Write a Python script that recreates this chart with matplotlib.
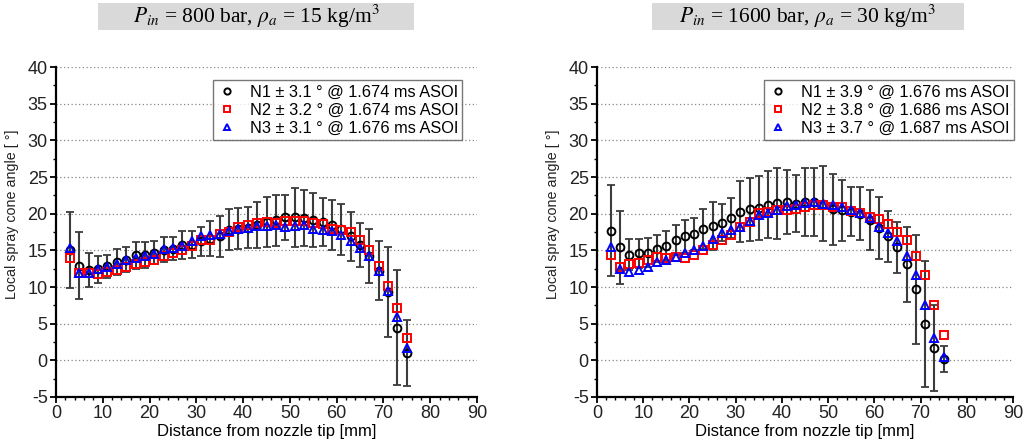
import matplotlib
matplotlib.use("Agg")
import matplotlib.pyplot as plt
import numpy as np
from matplotlib.patches import Rectangle

plt.rcParams['font.family'] = ['Liberation Sans', 'DejaVu Sans']
plt.rcParams['mathtext.fontset'] = 'stix'
plt.rcParams['axes.unicode_minus'] = False

distance = list(range(3, 77, 2))

# Left panel: P_in = 800 bar, rho_a = 15 kg/m3
left_n1 = [15.1, 12.9, 12.3, 12.45, 12.85, 13.45, 13.75, 14.35, 14.4, 14.7, 15.1, 15.25, 15.7, 15.75,
           16.25, 16.6, 16.9, 17.8, 17.95, 18.1, 18.45, 18.9, 19.1, 19.5, 19.5, 19.45, 19.15, 18.9,
           18.5, 17.85, 16.9, 15.8, 14.25, 12.25, 9.3, 4.45, 1.0]
left_err = [5.2, 4.6, 2.3, 1.85, 1.55, 1.75, 1.75, 1.85, 1.8, 1.6, 1.7, 1.55, 1.9, 1.85,
            1.95, 2.4, 2.8, 2.8, 2.8, 2.75, 3.15, 3.4, 3.5, 3.1, 4.0, 3.85, 3.65, 3.3,
            3.4, 3.45, 3.3, 3.0, 3.65, 4.05, 6.1, 7.85, 4.55]
left_n2 = [13.9, 11.85, 11.85, 11.8, 12.1, 12.35, 12.75, 13.1, 13.45, 13.7, 14.3, 14.6, 15.05, 15.65,
           16.4, 16.45, 17.2, 17.55, 18.15, 18.5, 18.7, 18.9, 18.8, 19.05, 19.05, 19.05, 18.8, 18.6,
           17.9, 17.8, 17.55, 16.4, 15.0, 12.9, 10.1, 7.2, 3.0]
left_n3 = [15.3, 11.85, 11.85, 12.4, 12.7, 13.1, 13.7, 13.95, 14.2, 14.5, 15.2, 15.3, 15.6, 16.3,
           16.9, 17.15, 17.25, 17.7, 17.9, 18.0, 18.3, 18.3, 18.45, 18.2, 18.3, 18.4, 17.9, 17.8,
           17.6, 17.1, 16.3, 15.3, 14.2, 12.25, 9.4, 5.9, 1.75]

# Right panel: P_in = 1600 bar, rho_a = 30 kg/m3
right_n1 = [17.7, 15.4, 14.4, 14.6, 14.7, 15.25, 15.6, 16.4, 16.9, 17.25, 17.9, 18.3, 18.8, 19.4,
            20.3, 20.6, 20.8, 21.25, 21.4, 21.6, 21.35, 21.6, 21.6, 21.35, 20.6, 20.45, 20.3, 20.0,
            19.1, 18.1, 16.9, 15.4, 13.1, 9.7, 4.9, 1.65, 0.2]
right_err = [6.2, 5.0, 2.1, 2.0, 1.95, 1.9, 2.1, 2.0, 2.2, 2.15, 2.7, 3.3, 2.5, 2.7,
             4.2, 4.3, 4.4, 4.6, 4.8, 4.3, 3.9, 4.6, 4.6, 5.1, 4.8, 4.15, 3.3, 3.6,
             4.1, 4.25, 3.45, 3.5, 5.15, 7.45, 8.6, 5.85, 1.8]
right_n2 = [14.35, 12.75, 13.1, 13.25, 13.7, 14.05, 13.95, 14.05, 13.95, 14.4, 15.1, 15.7, 16.45, 17.1,
            18.25, 18.85, 20.1, 20.3, 20.45, 20.45, 20.65, 20.9, 21.2, 21.25, 20.9, 20.9, 20.4, 20.1,
            19.5, 19.3, 18.6, 17.55, 16.4, 14.3, 11.65, 7.6, 3.4]
right_n3 = [15.4, 12.45, 12.1, 12.3, 12.8, 13.35, 13.7, 14.15, 14.6, 15.1, 15.55, 16.55, 17.35, 17.8,
            18.15, 19.0, 19.85, 20.1, 20.55, 21.1, 21.25, 21.45, 21.6, 21.35, 21.2, 20.9, 20.45, 20.1,
            19.45, 18.25, 17.35, 16.25, 14.3, 11.65, 7.6, 3.1, 0.4]

left_labels = ["N1 ± 3.1 ° @ 1.674 ms ASOI", "N2 ± 3.2 ° @ 1.674 ms ASOI", "N3 ± 3.1 ° @ 1.676 ms ASOI"]
right_labels = ["N1 ± 3.9 ° @ 1.676 ms ASOI", "N2 ± 3.8 ° @ 1.686 ms ASOI", "N3 ± 3.7 ° @ 1.687 ms ASOI"]
left_title = r"$P_{in}$ = 800 bar, $\rho_a$ = 15 kg/m$^3$"
right_title = r"$P_{in}$ = 1600 bar, $\rho_a$ = 30 kg/m$^3$"

fig = plt.figure(figsize=(10.24, 4.41), dpi=100)
ax1 = fig.add_axes([56 / 1024, 0.0998, 421 / 1024, 0.748])
ax2 = fig.add_axes([597 / 1024, 0.0998, 416 / 1024, 0.748])


def draw(ax, n1, err, n2, n3, labels, anchor_x):
    ax.errorbar(distance, n1, yerr=err, fmt='none', ecolor='#3c3c3c', elinewidth=1.5,
                capsize=3, capthick=1.3, zorder=2)
    h1, = ax.plot(distance, n1, 'o', ms=5.6, mfc='none', mec='black', mew=1.4, zorder=3)
    h2, = ax.plot(distance, n2, 's', ms=5.4, mfc='none', mec='#ff0000', mew=1.4, zorder=4)
    h3, = ax.plot(distance, n3, '^', ms=6.0, mfc='none', mec='#0000ff', mew=1.4, zorder=5)
    ax.set_xlim(0, 90)
    ax.set_ylim(-5, 40)
    ax.set_xticks(np.arange(0, 91, 10))
    ax.set_yticks(np.arange(-5, 41, 5))
    ax.set_xticks(np.arange(0, 91, 2), minor=True)
    ax.set_yticks(np.arange(-5, 41, 2.5), minor=True)
    ax.yaxis.grid(True, which='major', linestyle=(0, (1, 2)), color='#888888', linewidth=0.9)
    ax.set_axisbelow(True)
    for s in ['top', 'right']:
        ax.spines[s].set_visible(False)
    for s in ['left', 'bottom']:
        ax.spines[s].set_linewidth(1.6)
    ax.tick_params(which='major', direction='out', length=4, width=1.3, labelsize=13, pad=2,
                   labelcolor='#222222')
    ax.tick_params(which='minor', direction='out', length=2, width=1.0)
    ax.set_xlabel("Distance from nozzle tip [mm]", fontsize=12, labelpad=1)
    ax.set_ylabel("Local spray cone angle [ °]", fontsize=10.3, color='#222222')
    ax.yaxis.set_label_coords(-0.088, 0.555)
    leg = ax.legend([h1, h2, h3], labels, loc='upper right', bbox_to_anchor=(anchor_x, 0.985),
                    fontsize=11.8, frameon=True, fancybox=False, edgecolor='#555555',
                    handlelength=1.2, handletextpad=0.8, labelspacing=0.2, borderpad=0.25,
                    markerscale=0.8)
    leg.get_frame().set_linewidth(1.0)


draw(ax1, left_n1, left_err, left_n2, left_n3, left_labels, 0.985)
draw(ax2, right_n1, right_err, right_n2, right_n3, right_labels, 1.022)

# Title boxes
fig.patches.append(Rectangle((98 / 1024, 1 - 29.5 / 441), 316 / 1024, 27 / 441,
                             transform=fig.transFigure, facecolor='#d9d9d9', edgecolor='none'))
fig.patches.append(Rectangle((652 / 1024, 1 - 29.5 / 441), 312 / 1024, 27 / 441,
                             transform=fig.transFigure, facecolor='#d9d9d9', edgecolor='none'))
fig.text(256 / 1024, 1 - 16 / 441, left_title, ha='center', va='center', fontsize=15.5,
         family='Liberation Serif')
fig.text(808 / 1024, 1 - 16 / 441, right_title, ha='center', va='center', fontsize=15.5,
         family='Liberation Serif')

fig.savefig("out.png", dpi=100)
